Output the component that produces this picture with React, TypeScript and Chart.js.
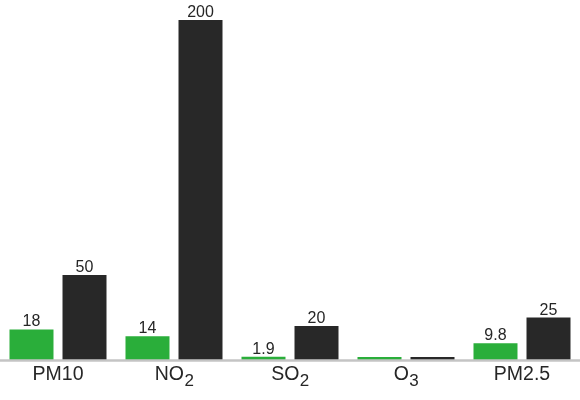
import React, { useEffect, useRef } from "react";
import { Chart, registerables } from "chart.js";

Chart.register(...registerables);

const categories = ["PM10", "NO_2", "SO_2", "O_3", "PM2.5"];
const measured = [18, 14, 1.9, 0, 9.8];
const limits = [50, 200, 20, 0, 25];
const valueLabels1 = ["18", "14", "1.9", "", "9.8"];
const valueLabels2 = ["50", "200", "20", "", "25"];

const FONT = "'Liberation Sans', Arial, sans-serif";
const TEXT = "#262626";

const labelPlugin = {
  id: "customLabels",
  afterDatasetsDraw(chart: any) {
    const ctx = chart.ctx;
    const area = chart.chartArea;
    // axis line
    ctx.save();
    ctx.strokeStyle = "#c4c4c4";
    ctx.lineWidth = 2.5;
    ctx.beginPath();
    ctx.moveTo(0, area.bottom + 0.5);
    ctx.lineTo(chart.width, area.bottom + 0.5);
    ctx.stroke();

    // value labels
    ctx.fillStyle = TEXT;
    ctx.font = `16px ${FONT}`;
    ctx.textAlign = "center";
    ctx.textBaseline = "alphabetic";
    const lbls = [valueLabels1, valueLabels2];
    chart.data.datasets.forEach((ds: any, di: number) => {
      const meta = chart.getDatasetMeta(di);
      meta.data.forEach((bar: any, i: number) => {
        const t = lbls[di][i];
        if (!t) return;
        ctx.fillText(t, bar.x, bar.y - 3);
      });
    });

    // category tick labels with subscripts
    const xs = chart.scales.x;
    categories.forEach((c, i) => {
      const [main, sub] = c.split("_");
      const cx = xs.getPixelForValue(i);
      const mainFont = `19.5px ${FONT}`;
      const subFont = `17px ${FONT}`;
      ctx.font = mainFont;
      const wMain = ctx.measureText(main).width;
      let wSub = 0;
      if (sub) {
        ctx.font = subFont;
        wSub = ctx.measureText(sub).width;
      }
      const start = cx - (wMain + wSub) / 2;
      ctx.textAlign = "left";
      ctx.font = mainFont;
      ctx.fillText(main, start, 380);
      if (sub) {
        ctx.font = subFont;
        ctx.fillText(sub, start + wMain + 0.5, 386);
      }
    });
    ctx.restore();
  },
};

export default function App() {
  const ref = useRef<HTMLCanvasElement>(null);
  useEffect(() => {
    document.body.style.margin = "0";
    const chart = new Chart(ref.current!, {
      type: "bar",
      data: {
        labels: categories,
        datasets: [
          {
            data: measured,
            backgroundColor: "#2aae3a",
            barPercentage: 0.83,
            categoryPercentage: 0.914,
            minBarLength: 3,
          },
          {
            data: limits,
            backgroundColor: "#282828",
            barPercentage: 0.83,
            categoryPercentage: 0.914,
            minBarLength: 3,
          },
        ],
      },
      options: {
        animation: false,
        responsive: true,
        maintainAspectRatio: false,
        layout: { padding: { left: 0, right: 0, top: 0, bottom: 40 } },
        plugins: { legend: { display: false }, tooltip: { enabled: false } },
        scales: {
          x: { display: false },
          y: { display: false, min: 0, max: 211.8 },
        },
      },
      plugins: [labelPlugin],
    });
    return () => chart.destroy();
  }, []);
  return (
    <div style={{ width: 580, height: 400, position: "relative" }}>
      <canvas ref={ref} />
    </div>
  );
}
